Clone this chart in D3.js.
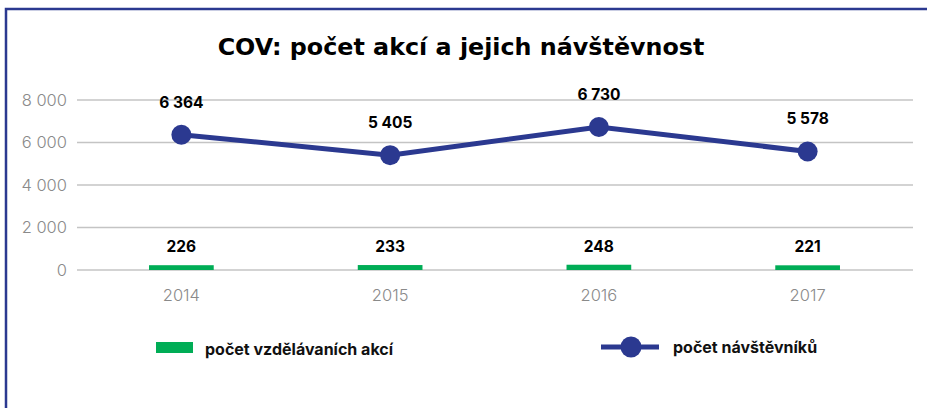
<!DOCTYPE html>
<html>
<head>
<meta charset="utf-8">
<script src="https://cdn.jsdelivr.net/npm/d3@7"></script>
<style>
  html, body { margin: 0; padding: 0; background: #fff; }
  svg { display: block; font-family: Inter, 'Noto Sans', sans-serif; }
  .grid line { stroke: #c4c4c4; stroke-width: 1.3; }
  .tick-label { fill: #8a8a8a; font-weight: 300; }
  .value { fill: #000; font-weight: 700; font-size: 15.5px; text-anchor: middle; }
  .legend text { font-weight: 700; font-size: 16px; fill: #111; }
</style>
</head>
<body>
<div id="chart"></div>
<script>
const years = ['2014', '2015', '2016', '2017']
const eventCounts = [226, 233, 248, 221]
const visitorCounts = [6364, 5405, 6730, 5578]
const yTicks = [0, 2000, 4000, 6000, 8000]

const width = 927
const height = 408
const blue = '#2b3990'
const green = '#00ad56'

const czFormat = d3.formatLocale({ decimal: ',', thousands: ' ', grouping: [3], currency: ['', ''] }).format(',d')

const svg = d3.select('#chart')
  .append('svg')
  .attr('width', width)
  .attr('height', height)

// frame (top and left edge only)
svg.append('path')
  .attr('d', `M6,${height} V9 H${width}`)
  .attr('fill', 'none')
  .attr('stroke', blue)
  .attr('stroke-width', 2.5)

svg.append('text')
  .attr('x', 461)
  .attr('y', 55)
  .attr('text-anchor', 'middle')
  .attr('font-family', "'DejaVu Sans', sans-serif")
  .attr('font-size', 23.8)
  .attr('font-weight', 700)
  .attr('fill', '#000')
  .text('COV: počet akcí a jejich návštěvnost')

const x = d3.scaleBand()
  .domain(years)
  .range([77, 912])
  .paddingInner(0.69)
  .paddingOuter(0.345)

const y = d3.scaleLinear()
  .domain([0, 8000])
  .range([270, 100])

const cx = d => x(d) + x.bandwidth() / 2

// gridlines
const grid = svg.append('g').attr('class', 'grid')
grid.selectAll('line')
  .data(yTicks)
  .join('line')
  .attr('x1', 77)
  .attr('x2', 913)
  .attr('y1', d => y(d))
  .attr('y2', d => y(d))
  .attr('stroke', d => d === 0 ? '#a8a8a8' : null)

// y axis labels
svg.append('g')
  .selectAll('text')
  .data(yTicks)
  .join('text')
  .attr('class', 'tick-label')
  .attr('x', 67)
  .attr('y', d => y(d))
  .attr('dy', '0.35em')
  .attr('text-anchor', 'end')
  .attr('font-size', 16.5)
  .text(d => czFormat(d))

// x axis labels
svg.append('g')
  .selectAll('text')
  .data(years)
  .join('text')
  .attr('class', 'tick-label')
  .attr('x', d => cx(d))
  .attr('y', 301)
  .attr('text-anchor', 'middle')
  .attr('font-size', 16.5)
  .text(d => d)

// bars: number of events
svg.append('g')
  .selectAll('rect')
  .data(years)
  .join('rect')
  .attr('x', d => x(d))
  .attr('width', x.bandwidth())
  .attr('y', (d, i) => y(eventCounts[i]))
  .attr('height', (d, i) => y(0) - y(eventCounts[i]))
  .attr('fill', green)

svg.append('g')
  .selectAll('text')
  .data(years)
  .join('text')
  .attr('class', 'value')
  .attr('x', d => cx(d))
  .attr('y', (d, i) => y(eventCounts[i]) - 13)
  .text((d, i) => czFormat(eventCounts[i]))

// line: number of visitors
const line = d3.line()
  .x((d, i) => cx(years[i]))
  .y(d => y(d))

svg.append('path')
  .datum(visitorCounts)
  .attr('d', line)
  .attr('fill', 'none')
  .attr('stroke', blue)
  .attr('stroke-width', 5)

svg.append('g')
  .selectAll('circle')
  .data(visitorCounts)
  .join('circle')
  .attr('cx', (d, i) => cx(years[i]))
  .attr('cy', d => y(d))
  .attr('r', 10)
  .attr('fill', blue)

svg.append('g')
  .selectAll('text')
  .data(visitorCounts)
  .join('text')
  .attr('class', 'value')
  .attr('x', (d, i) => cx(years[i]))
  .attr('y', d => y(d) - 27)
  .text(d => czFormat(d))

// legend
const legend = svg.append('g').attr('class', 'legend')

legend.append('rect')
  .attr('x', 156)
  .attr('y', 342)
  .attr('width', 37)
  .attr('height', 11)
  .attr('fill', green)

legend.append('text')
  .attr('x', 205)
  .attr('y', 355)
  .text('počet vzdělávaních akcí')

legend.append('line')
  .attr('x1', 601)
  .attr('x2', 659)
  .attr('y1', 347)
  .attr('y2', 347)
  .attr('stroke', blue)
  .attr('stroke-width', 5)

legend.append('circle')
  .attr('cx', 631)
  .attr('cy', 347)
  .attr('r', 10.5)
  .attr('fill', blue)

legend.append('text')
  .attr('x', 673)
  .attr('y', 353)
  .text('počet návštěvníků')
</script>
</body>
</html>
